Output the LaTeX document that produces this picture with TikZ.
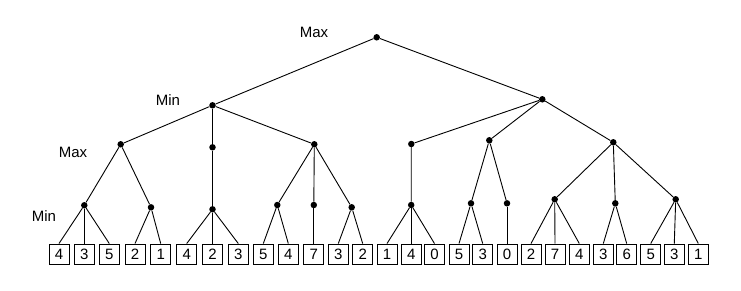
\documentclass[tikz,border=0pt]{standalone}
\usepackage{fontspec}
\setmainfont{Liberation Sans}
\usepackage{tikz}
\usetikzlibrary{positioning}

\begin{document}
\begin{tikzpicture}[
    x=1pt, y=-1pt,
    font=\fontsize{15}{18}\selectfont,
    dot/.style={circle, fill=black, inner sep=0pt, minimum size=6.5pt},
    leaf/.style={rectangle, draw=black, line width=0.9pt, minimum width=20pt, minimum height=20pt, inner sep=0pt, text centered},
    level/.style={inner sep=0pt},
    edge/.style={line width=0.9pt},
]
    \useasboundingbox (0,0) rectangle (741,290);

    % Level labels
    \node (lblmax1) [level] at (314,32) {Max};
    \node (lblmin1) [level] at (168,100) {Min};
    \node (lblmax2) [level] at (73,152) {Max};
    \node (lblmin2) [level] at (44,216) {Min};

    % Root and min nodes
    \node (root) [dot] at (376.7,37.3) {};
    \node (minl) [dot] at (212.5,105.3) {};
    \node (minr) [dot] at (542.3,99.3) {};

    % Max nodes
    \node (maxa) [dot] at (120.7,144.3) {};
    \node (maxb) [dot] at (212.5,147.3) {};
    \node (maxc) [dot] at (314.3,144.3) {};
    \node (maxd) [dot] at (411.3,144) {};
    \node (maxe) [dot] at (489.3,140.3) {};
    \node (maxf) [dot] at (613.3,142.3) {};

    % Min nodes above the leaves
    \node (mina) [dot] at (84.3,205.3) {};
    \node (minb) [dot] at (151,207.3) {};
    \node (minc) [dot] at (212.5,209.3) {};
    \node (mind) [dot] at (277.3,205) {};
    \node (mine) [dot] at (313.8,205) {};
    \node (minf) [dot] at (351.7,207.3) {};
    \node (ming) [dot] at (411.2,205) {};
    \node (minh) [dot] at (471,203.3) {};
    \node (mini) [dot] at (507,203.3) {};
    \node (minj) [dot] at (554.7,199.3) {};
    \node (mink) [dot] at (615.3,203.3) {};
    \node (minm) [dot] at (675.7,199.3) {};

    % Leaves
    \node (l1) [leaf] at (59,254) {4};
    \node (l2) [leaf] at (84.3,254) {3};
    \node (l3) [leaf] at (109.3,254) {5};
    \node (l4) [leaf] at (135,254) {2};
    \node (l5) [leaf] at (160.7,254) {1};
    \node (l6) [leaf] at (186.7,254) {4};
    \node (l7) [leaf] at (212.5,254) {2};
    \node (l8) [leaf] at (238.3,254) {3};
    \node (l9) [leaf] at (263.3,254) {5};
    \node (l10) [leaf] at (288.3,254) {4};
    \node (l11) [leaf] at (313.8,254) {7};
    \node (l12) [leaf] at (338.3,254) {3};
    \node (l13) [leaf] at (362.7,254) {2};
    \node (l14) [leaf] at (387,254) {1};
    \node (l15) [leaf] at (411.2,254) {4};
    \node (l16) [leaf] at (434.5,254) {0};
    \node (l17) [leaf] at (459,254) {5};
    \node (l18) [leaf] at (482.7,254) {3};
    \node (l19) [leaf] at (507,254) {0};
    \node (l20) [leaf] at (531,254) {2};
    \node (l21) [leaf] at (555,254) {7};
    \node (l22) [leaf] at (579.3,254) {4};
    \node (l23) [leaf] at (603.3,254) {3};
    \node (l24) [leaf] at (626.7,254) {6};
    \node (l25) [leaf] at (650.7,254) {5};
    \node (l26) [leaf] at (674.3,254) {3};
    \node (l27) [leaf] at (698.3,254) {1};

    % Upper edges
    \draw [edge] (root) -- (minl);
    \draw [edge] (root) -- (minr);
    \draw [edge] (minl) -- (maxa);
    \draw [edge] (minl) -- (maxb);
    \draw [edge] (minl) -- (maxc);
    \draw [edge] (minr) -- (maxd);
    \draw [edge] (minr) -- (maxe);
    \draw [edge] (minr) -- (maxf);

    \draw [edge] (maxa) -- (mina);
    \draw [edge] (maxa) -- (minb);
    \draw [edge] (maxb) -- (minc);
    \draw [edge] (maxc) -- (mind);
    \draw [edge] (maxc) -- (mine);
    \draw [edge] (maxc) -- (minf);
    \draw [edge] (maxd) -- (ming);
    \draw [edge] (maxe) -- (minh);
    \draw [edge] (maxe) -- (mini);
    \draw [edge] (maxf) -- (minj);
    \draw [edge] (maxf) -- (mink);
    \draw [edge] (maxf) -- (minm);

    % Edges to the leaves
    \draw [edge] (mina) -- (l1.north);
    \draw [edge] (mina) -- (l2.north);
    \draw [edge] (mina) -- (l3.north);
    \draw [edge] (minb) -- (l4.north);
    \draw [edge] (minb) -- (l5.north);
    \draw [edge] (minc) -- (l6.north);
    \draw [edge] (minc) -- (l7.north);
    \draw [edge] (minc) -- (l8.north);
    \draw [edge] (mind) -- (l9.north);
    \draw [edge] (mind) -- (l10.north);
    \draw [edge] (mine) -- (l11.north);
    \draw [edge] (minf) -- (l12.north);
    \draw [edge] (minf) -- (l13.north);
    \draw [edge] (ming) -- (l14.north);
    \draw [edge] (ming) -- (l15.north);
    \draw [edge] (ming) -- (l16.north);
    \draw [edge] (minh) -- (l17.north);
    \draw [edge] (minh) -- (l18.north);
    \draw [edge] (mini) -- (l19.north);
    \draw [edge] (minj) -- (l20.north);
    \draw [edge] (minj) -- (l21.north);
    \draw [edge] (minj) -- (l22.north);
    \draw [edge] (mink) -- (l23.north);
    \draw [edge] (mink) -- (l24.north);
    \draw [edge] (minm) -- (l25.north);
    \draw [edge] (minm) -- (l26.north);
    \draw [edge] (minm) -- (l27.north);

\end{tikzpicture}
\end{document}
